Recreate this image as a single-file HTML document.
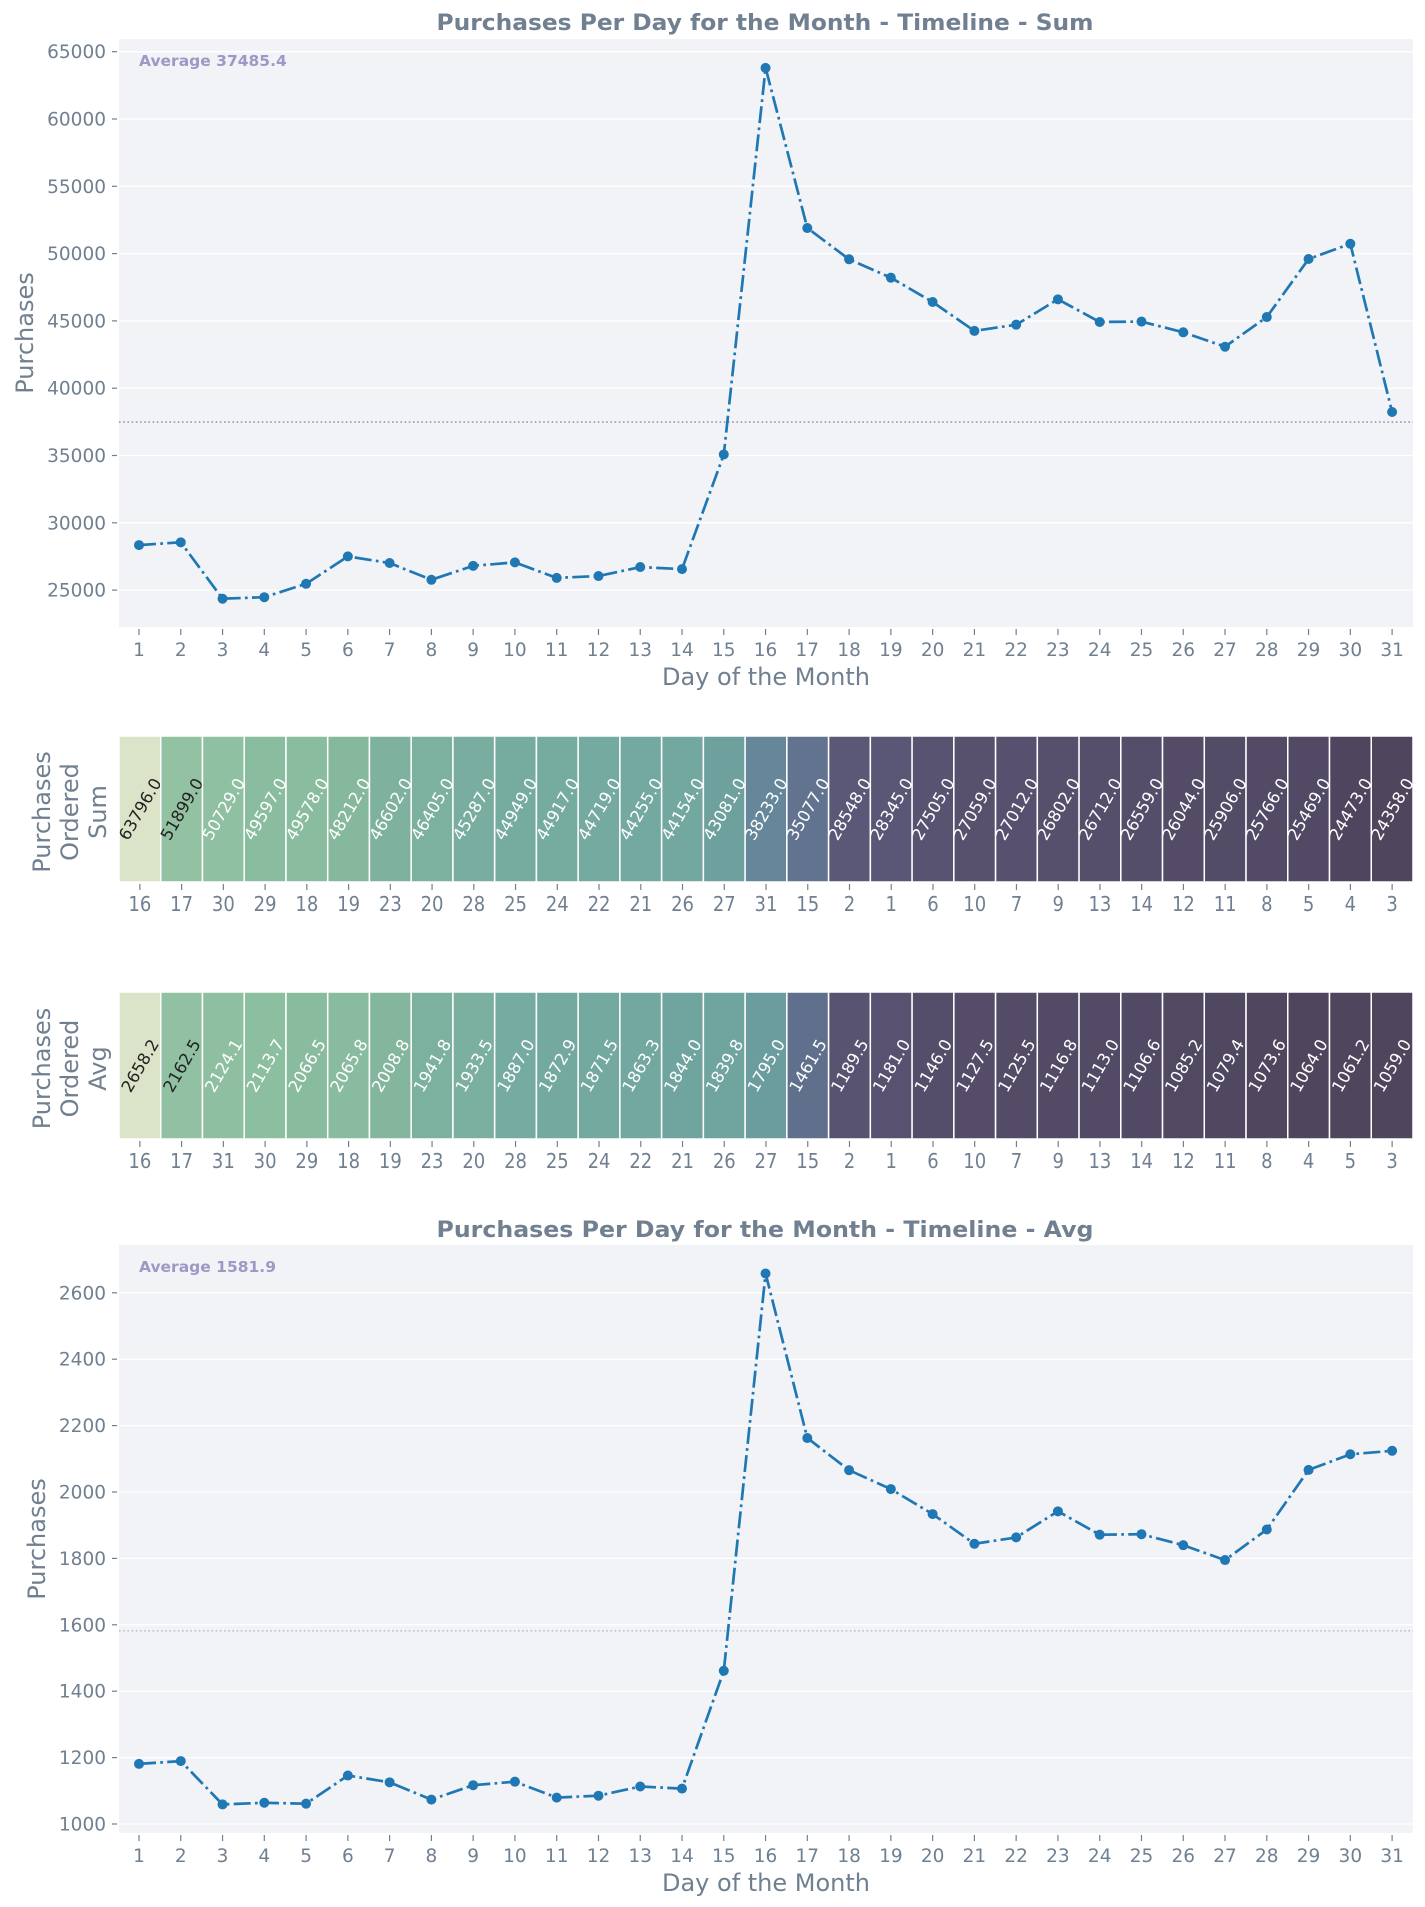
<!DOCTYPE html>
<html><head><meta charset="utf-8">
<style>
html,body{margin:0;padding:0;background:#fff;}
svg{display:block;}
text{font-family:"DejaVu Sans","Liberation Sans",sans-serif;fill:#708090;}
</style></head>
<body>
<svg id="s" width="1425" height="1907" xmlns="http://www.w3.org/2000/svg"></svg>
<script>
const S=document.getElementById('s');
let h='';
const L=119,R=1413,X0=139,DX=41.77;
const sum={16:63796,17:51899,30:50729,29:49597,18:49578,19:48212,23:46602,20:46405,28:45287,25:44949,24:44917,22:44719,21:44255,26:44154,27:43081,31:38233,15:35077,2:28548,1:28345,6:27505,10:27059,7:27012,9:26802,13:26712,14:26559,12:26044,11:25906,8:25766,5:25469,4:24473,3:24358};
const avg={16:2658.2,17:2162.5,31:2124.1,30:2113.7,29:2066.5,18:2065.8,19:2008.8,23:1941.8,20:1933.5,28:1887.0,25:1872.9,24:1871.5,22:1863.3,21:1844.0,26:1839.8,27:1795.0,15:1461.5,2:1189.5,1:1181.0,6:1146.0,10:1127.5,7:1125.5,9:1116.8,13:1113.0,14:1106.6,12:1085.2,11:1079.4,8:1073.6,4:1064.0,5:1061.2,3:1059.0};
function xd(d){return X0+(d-1)*DX;}
function line(title,tY,top,bot,data,yf,ticks,fmt,avgv,avgTxt,avgCol,ylx){
  h+=`<text x="765" y="${tY}" text-anchor="middle" font-weight="bold" font-size="22" textLength="657" lengthAdjust="spacingAndGlyphs">${title}</text>`;
  h+=`<rect x="${L}" y="${top}" width="${R-L}" height="${bot-top}" fill="#f1f3f7"/>`;
  ticks.forEach(v=>{const y=yf(v);
    h+=`<line x1="${L}" x2="${R}" y1="${y}" y2="${y}" stroke="#fff" stroke-width="1.3"/>`;
    h+=`<line x1="${L-7}" x2="${L-2}" y1="${y}" y2="${y}" stroke="#708090" stroke-width="1.2"/>`;
    h+=`<text x="${L-13}" y="${y+6.5}" text-anchor="end" font-size="18.5">${fmt(v)}</text>`;});
  for(let d=1;d<=31;d++){const x=xd(d);
    h+=`<line x1="${x}" x2="${x}" y1="${bot+2}" y2="${bot+8}" stroke="#708090" stroke-width="1.2"/>`;
    h+=`<text x="${x}" y="${bot+29}" text-anchor="middle" font-size="18.5">${d}</text>`;}
  h+=`<text x="766" y="${bot+58}" text-anchor="middle" font-size="24">Day of the Month</text>`;
  h+=`<text transform="translate(${ylx},${(top+bot)/2}) rotate(-90)" text-anchor="middle" font-size="24">Purchases</text>`;
  const ay=yf(avgv);
  h+=`<line x1="${L}" x2="${R}" y1="${ay}" y2="${ay}" stroke="${avgCol}" stroke-width="1.6" stroke-dasharray="1.6,2.6"/>`;
  h+=`<text x="139" y="${top+27}" font-size="15.5" font-weight="bold" style="fill:#9d98c4">${avgTxt}</text>`;
  let pts=[];for(let d=1;d<=31;d++)pts.push(xd(d).toFixed(1)+','+yf(data[d]).toFixed(1));
  h+=`<polyline points="${pts.join(' ')}" fill="none" stroke="#1f77b4" stroke-width="2.7" stroke-dasharray="17,4.3,2.7,4.3"/>`;
  for(let d=1;d<=31;d++)h+=`<circle cx="${xd(d)}" cy="${yf(data[d])}" r="5" fill="#1f77b4"/>`;
}
line('Purchases Per Day for the Month - Timeline - Sum',30,39,627,sum,v=>51.7+(65000-v)/5000*67.3,[25000,30000,35000,40000,45000,50000,55000,60000,65000],v=>v,37485.4,'Average 37485.4','#9a94bd',33);
line('Purchases Per Day for the Month - Timeline - Avg',1237,1245,1833,avg,v=>1824-(v-1000)/200*66.4,[1000,1200,1400,1600,1800,2000,2200,2400,2600],v=>v,1581.9,'Average 1581.9','#c0c0cc',45);

const stops=[[0,[79,69,93]],[0.106,[91,87,119]],[0.27,[97,115,143]],[0.35,[102,135,154]],[0.47,[109,159,158]],[0.5,[114,168,160]],[0.6,[133,183,158]],[0.66,[140,191,160]],[0.7,[147,194,163]],[1,[219,227,201]]];
function col(t){for(let i=1;i<stops.length;i++){if(t<=stops[i][0]){const a=stops[i-1],b=stops[i],f=(t-a[0])/(b[0]-a[0]);return 'rgb('+a[1].map((c,k)=>Math.round(c+(b[1][k]-c)*f)).join(',')+')';}}return 'rgb(219,227,201)';}
function heat(data,top,bot,lab){
  const ks=Object.keys(data).map(Number).sort((a,b)=>data[b]-data[a]);
  const mx=data[ks[0]],mn=data[ks[30]];const w=(R-L)/31;
  ks.forEach((k,i)=>{const x=L+i*w,t=(data[k]-mn)/(mx-mn);
    h+=`<rect x="${x}" y="${top}" width="${w}" height="${bot-top}" fill="${col(t)}" stroke="#fff" stroke-width="1.5"/>`;
    const cx=x+w/2,cy=(top+bot)/2;
    h+=`<text transform="translate(${cx},${cy}) rotate(-60)" text-anchor="middle" dy="6" font-size="16.5" style="fill:${t>0.68?'#222':'#fff'}">${data[k].toFixed(1)}</text>`;
    h+=`<line x1="${cx}" x2="${cx}" y1="${bot+2}" y2="${bot+8}" stroke="#708090" stroke-width="1.2"/>`;
    h+=`<text x="${cx}" y="${bot+29}" text-anchor="middle" font-size="20" style="font-stretch:condensed">${k}</text>`;});
  const cy=(top+bot)/2;
  ['Purchases','Ordered',lab].forEach((s,i)=>{h+=`<text transform="translate(${50+i*28},${cy+3}) rotate(-90)" text-anchor="middle" font-size="24">${s}</text>`;});
}
heat(sum,736,882,'Sum');
heat(avg,992,1139,'Avg');
S.innerHTML=h;
</script>
</body></html>
